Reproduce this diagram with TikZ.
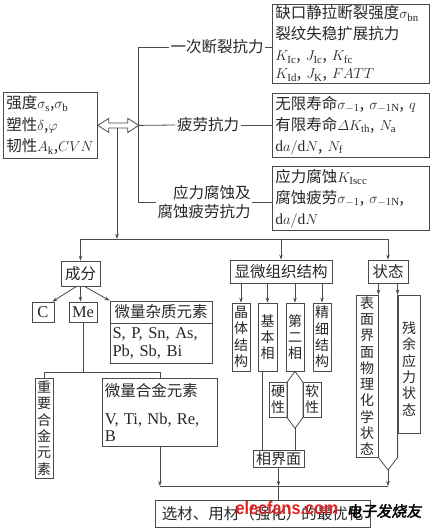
\documentclass[tikz,border=0pt]{standalone}
\usepackage{amsmath}
\usepackage{fontspec}
\usepackage{graphicx}
\setmainfont{Liberation Serif}
\newfontfamily\lat{Liberation Serif}[WordSpace=1.8]
\newfontfamily\cjk{Noto Sans CJK SC}
\newfontfamily\wmcjk{Noto Sans CJK SC}[FakeBold=2,FakeSlant=0.15]
\newfontfamily\wmlat{Liberation Sans}
\usetikzlibrary{arrows.meta,calc}
\definecolor{lc}{RGB}{75,75,75}
\definecolor{tc}{RGB}{40,40,40}
\definecolor{wmred}{RGB}{225,35,35}
\begin{document}
\begin{tikzpicture}[x=1pt,y=-1pt,line width=0.8pt,color=lc,
 >={Stealth[length=5pt,width=3.6pt]},
 bx/.style={draw=lc,inner sep=0pt,text=tc,font=\cjk\fontsize{15.5}{21}\selectfont},
 tb/.style={bx,anchor=north west,align=left},
 lb/.style={inner sep=1.5pt,text=tc,font=\cjk\fontsize{15.5}{19}\selectfont},
 vb/.style={draw=lc,inner sep=0pt,text=tc,align=center,minimum width=18pt,font=\cjk\fontsize{14}{16.3}\selectfont},
 lt/.style={font=\lat\fontsize{16.5}{18}\selectfont}]
\fill[white] (0,0) rectangle (439,528);
\useasboundingbox (0,0) rectangle (439,528);

% left properties box
\node[tb,minimum width=94pt,minimum height=66pt,text width=88pt,font=\cjk\fontsize{15.5}{21.5}\selectfont] (prop) at (3,92)
 {强度$\sigma_{\mathrm s}$,$\sigma_{\mathrm b}$\\塑性$\delta$,$\varphi$\\韧性$A_{\mathrm k}$,$CVN$};

% right resistance boxes
\node[tb,minimum width=157pt,minimum height=79pt,text width=151pt] (b1) at (272,4)
 {缺口静拉断裂强度$\sigma_{\mathrm{bn}}$\\裂纹失稳扩展抗力\\$K_{\mathrm{Ic}}$, $J_{\mathrm{Ic}}$, $K_{\mathrm{fc}}$\\[-3pt]$K_{\mathrm{Id}}$, $J_{\mathrm K}$, $FATT$};
\node[tb,minimum width=157pt,minimum height=64pt,text width=151pt] (b2) at (272,93)
 {无限寿命$\sigma_{-1}$, $\sigma_{-1\mathrm N}$, $q$\\有限寿命$\varDelta K_{\mathrm{th}}$, $N_{\mathrm a}$\\$\mathrm{d}a/\mathrm{d}N$, $N_{\mathrm f}$};
\node[tb,minimum width=157pt,minimum height=64pt,text width=151pt] (b3) at (272,166)
 {应力腐蚀$K_{\mathrm{Iscc}}$\\腐蚀疲劳$\sigma_{-1}$, $\sigma_{-1\mathrm N}$,\\$\mathrm{d}a/\mathrm{d}N$};

% resistance labels
\node[lb] (r1) at (217,47) {一次断裂抗力};
\node[lb] (r2) at (208,125) {疲劳抗力};
\node[lb,align=right] (r3) at (204,202) {应力腐蚀及\\腐蚀疲劳抗力};

% second level
\node[bx,minimum width=39pt,minimum height=25pt] (cf) at (80.5,273.5) {成分};
\node[bx,minimum width=102pt,minimum height=23pt] (mi) at (281,271.5) {显微组织结构};
\node[bx,minimum width=40pt,minimum height=23pt] (st) at (388,271.5) {状态};

% composition
\node[bx,lt,minimum width=22pt,minimum height=20pt] (c) at (43,312) {C};
\node[bx,lt,minimum width=28pt,minimum height=20pt] (me) at (83,312) {Me};
\node[bx,minimum width=102pt,minimum height=22pt] (imp) at (161,312) {微量杂质元素};
\node[bx,lt,anchor=north,minimum width=102pt,minimum height=40pt,text width=97pt,align=left] (impl) at (imp.south) {S, P, Sn, As,\\Pb, Sb, Bi};
\node[vb,minimum height=100pt] (zy) at (44,428) {重\\要\\合\\金\\元\\素};
\node[tb,minimum width=115pt,minimum height=68pt,text width=110pt,font=\cjk\fontsize{15.5}{17}\selectfont] (wl) at (102,378)
 {微量合金元素\\[11pt]{\lat\fontsize{16.5}{16}\selectfont V, Ti, Nb, Re,}\\{\lat\fontsize{16.5}{16}\selectfont B}};

% microstructure
\node[vb,minimum height=68pt] (jt) at (241,337) {晶\\体\\结\\构};
\node[vb,minimum height=68pt,minimum width=19pt] (jb) at (267.5,337) {基\\本\\相};
\node[vb,minimum height=68pt] (de) at (295,337) {第\\二\\相};
\node[vb,minimum height=68pt] (jx) at (322,337) {精\\细\\结\\构};
\node[vb,minimum height=35pt] (yx) at (278,399.5) {硬\\性};
\node[vb,minimum height=35pt] (rx) at (312,399.5) {软\\性};
\node[bx,minimum width=51pt,minimum height=17pt,font=\cjk\fontsize{15}{17}\selectfont] (xj) at (278.5,458.5) {相界面};

% state
\node[vb,minimum width=22pt,minimum height=162pt] (bm) at (367,376) {表\\面\\界\\面\\物\\理\\化\\学\\状\\态};
\node[vb,minimum width=22pt,minimum height=138pt] (rs) at (409,364) {\mbox{}\\[5pt]残\\余\\应\\力\\状\\态};

% final
\node[bx,minimum width=215pt,minimum height=27pt] (fin) at (262.5,513.5) {选材、用材（强化）的最优化};

% ---- connectors ----
\coordinate (bt) at (138,47);
\coordinate (bb) at (138,202);
\draw (bt) -- (bb);
\draw (bt) -- (r1.west);
\draw (r1.east) -- (r1.east -| b1.west);
\draw (r2.east) -- (r2.east -| b2.west);
\draw (bb) -- (bb -| r3.west);
\draw (r3.east) -- (r3.east -| b3.west);

\coordinate (dv) at (117,127.5);
\coordinate (hy) at (117,239);
\draw[->] (dv) -- (hy);
\draw[fill=white] (prop.east) -- ++(11,-7) -- ++(0,4.5) -- ++(19,0) -- ++(0,-4.5) -- ++(11,7) coordinate (dr)
  -- ++(-11,7) -- ++(0,-4.5) -- ++(-19,0) -- ++(0,4.5) -- cycle;
\draw (dr) -- (r2.west);

\draw (cf.north |- hy) -- (st.north |- hy);
\draw[->] (cf.north |- hy) -- (cf.north);
\draw[->] (mi.north |- hy) -- (mi.north);
\draw[->] (st.north |- hy) -- (st.north);

\draw[->] ($(cf.south)+(-4,0)$) -- ($(c.north east)+(-2,0)$);
\draw[->] (cf.south) -- (cf.south |- me.north);
\draw[->] ($(cf.south)+(4,0)$) -- (imp.north west);

\coordinate (mj) at (83,372);
\draw (me.south) -- (me.south |- mj);
\draw (zy.north |- mj) -- (wl.north |- mj);
\draw (zy.north |- mj) -- (zy.north);
\draw (wl.north |- mj) -- (wl.north);

\foreach \n in {jt,jb,de,jx} \draw[->] (mi.south -| \n.north) -- (\n.north);
\coordinate (jbs) at ($(jb.south)+(-5.5,0)$);
\draw (jbs) -- (jbs |- xj.north);
\draw (de.south) -- ++(-8,11) -- ++(0,35) -- ++(8,11) coordinate (dbot) -- ++(8,-11) -- ++(0,-35) -- cycle;
\draw (dbot) -- (dbot |- xj.north);

\draw[->] (st.south -| bm.east) -- (bm.north east);
\draw[->] (st.south -| rs.west) -- (rs.north west);
\coordinate (lensb) at (388,470);
\draw (bm.north east) -- (bm.south east) -- (lensb) -- (rs.west |- bm.south) -- (rs.north west);

\coordinate (hb) at (0,486);
\draw (wl.south |- hb) -- (lensb |- hb);
\draw[->] (wl.south) -- (wl.south |- hb);
\draw[->] (xj.south) -- (xj.south |- hb);
\draw (xj.south |- hb) -- (xj.south |- fin.north);
\draw[->] (lensb) -- (lensb |- hb);

% watermark
\node[inner sep=0pt,text=wmred,font=\wmlat\bfseries\fontsize{18}{18}\selectfont] (wm1) at (287,508) {\scalebox{0.9}[1]{elecfans.com}};
\node[inner sep=0pt,text=black,font=\wmcjk\fontsize{15}{15}\selectfont] (wm2) at (384,511) {电子发烧友};
\end{tikzpicture}
\end{document}
